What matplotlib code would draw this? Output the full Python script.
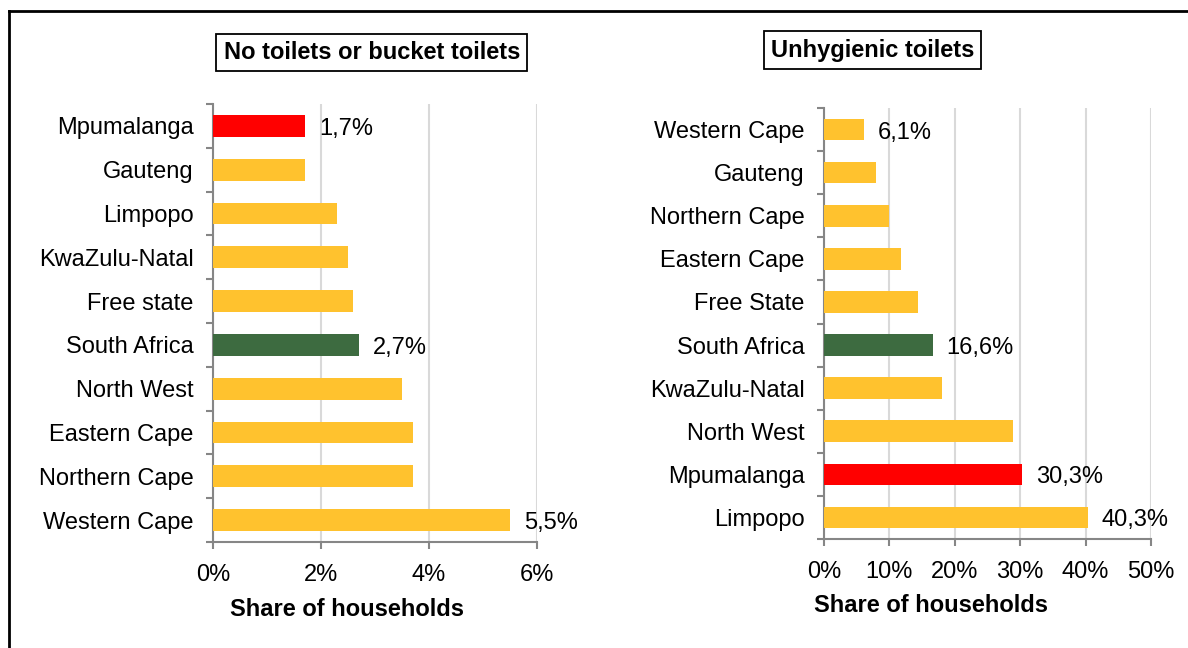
import matplotlib
matplotlib.use("Agg")
import matplotlib.pyplot as plt
from matplotlib.lines import Line2D

plt.rcParams["font.family"] = ["Liberation Sans", "DejaVu Sans"]

W, H = 1188, 648

# linker Teil: keine Toiletten / Eimertoiletten
left_cats = ["Mpumalanga", "Gauteng", "Limpopo", "KwaZulu-Natal", "Free state",
             "South Africa", "North West", "Eastern Cape", "Northern Cape",
             "Western Cape"]
left_vals = [1.7, 1.7, 2.3, 2.5, 2.6, 2.7, 3.5, 3.7, 3.7, 5.5]
left_labels = {0: "1,7%", 5: "2,7%", 9: "5,5%"}
left_ticks = [0, 2, 4, 6]

# rechter Teil: unhygienische Toiletten
right_cats = ["Western Cape", "Gauteng", "Northern Cape", "Eastern Cape",
              "Free State", "South Africa", "KwaZulu-Natal", "North West",
              "Mpumalanga", "Limpopo"]
right_vals = [6.1, 8.0, 10.0, 11.8, 14.4, 16.6, 18.0, 28.9, 30.3, 40.3]
right_labels = {0: "6,1%", 5: "16,6%", 8: "30,3%", 9: "40,3%"}
right_ticks = [0, 10, 20, 30, 40, 50]

ORANGE = "#FFC22E"
RED = "#FF0000"
GREEN = "#3D6B40"
AXIS_GREY = "#868686"
GRID_GREY = "#D9D9D9"
FS = 17
FS_BOLD = 17


def bar_color(cat):
    if cat == "Mpumalanga":
        return RED
    if cat == "South Africa":
        return GREEN
    return ORANGE


def px_rect(x0, x1, ytop, ybot):
    return [x0 / W, 1 - ybot / H, (x1 - x0) / W, (ybot - ytop) / H]


def draw_panel(fig, rect, cats, vals, labels, ticks, title, title_xy, xlabel_xy):
    ax = fig.add_axes(rect)
    pos = list(range(len(cats)))
    ax.barh(pos, vals, height=0.5, color=[bar_color(c) for c in cats], zorder=3)
    for i, txt in labels.items():
        ax.annotate(txt, (vals[i], pos[i]), xytext=(14, -3),
                    textcoords="offset pixels", va="center", ha="left",
                    fontsize=FS, color="black")
    ax.set_ylim(len(cats) - 0.5, -0.5)
    ax.set_xlim(ticks[0], ticks[-1])
    ax.set_yticks(pos)
    ax.set_yticklabels(cats, fontsize=FS)
    ax.set_yticks([p - 0.5 for p in pos] + [len(cats) - 0.5], minor=True)
    ax.tick_params(axis="y", which="major", length=0, pad=14)
    ax.tick_params(axis="y", which="minor", length=5, width=1.5, color=AXIS_GREY)
    ax.set_xticks(ticks)
    ax.set_xticklabels([f"{t}%" for t in ticks], fontsize=FS)
    ax.tick_params(axis="x", length=5, width=1.5, color=AXIS_GREY, pad=11)
    ax.grid(axis="x", color=GRID_GREY, lw=1.5, zorder=0)
    for s in ["top", "right"]:
        ax.spines[s].set_visible(False)
    for s in ["left", "bottom"]:
        ax.spines[s].set_color(AXIS_GREY)
        ax.spines[s].set_linewidth(1.5)
    ax.set_axisbelow(True)

    fig.text(title_xy[0] / W, 1 - title_xy[1] / H, title, fontsize=FS_BOLD,
             fontweight="bold", ha="center", va="center",
             bbox=dict(boxstyle="square,pad=0.3", fc="white", ec="black", lw=1.3))
    fig.text(xlabel_xy[0] / W, 1 - xlabel_xy[1] / H, "Share of households",
             fontsize=FS_BOLD, fontweight="bold", ha="center", va="center")
    return ax


fig = plt.figure(figsize=(W / 100, H / 100), dpi=100)

draw_panel(fig, px_rect(213, 537, 104, 542), left_cats, left_vals, left_labels,
           left_ticks, "No toilets or bucket toilets", (371.7, 52.3), (346.5, 610))
draw_panel(fig, px_rect(824, 1151, 108, 539), right_cats, right_vals, right_labels,
           right_ticks, "Unhygienic toilets", (872.5, 50), (931.5, 605))

# äußerer Rahmen (nur links und oben sichtbar)
fig.add_artist(Line2D([8.5 / W, 8.5 / W], [0, 1 - 11 / H], color="black", lw=2))
fig.add_artist(Line2D([8.5 / W, 1], [1 - 11 / H, 1 - 11 / H], color="black", lw=2))

fig.savefig("out.png", dpi=100)
